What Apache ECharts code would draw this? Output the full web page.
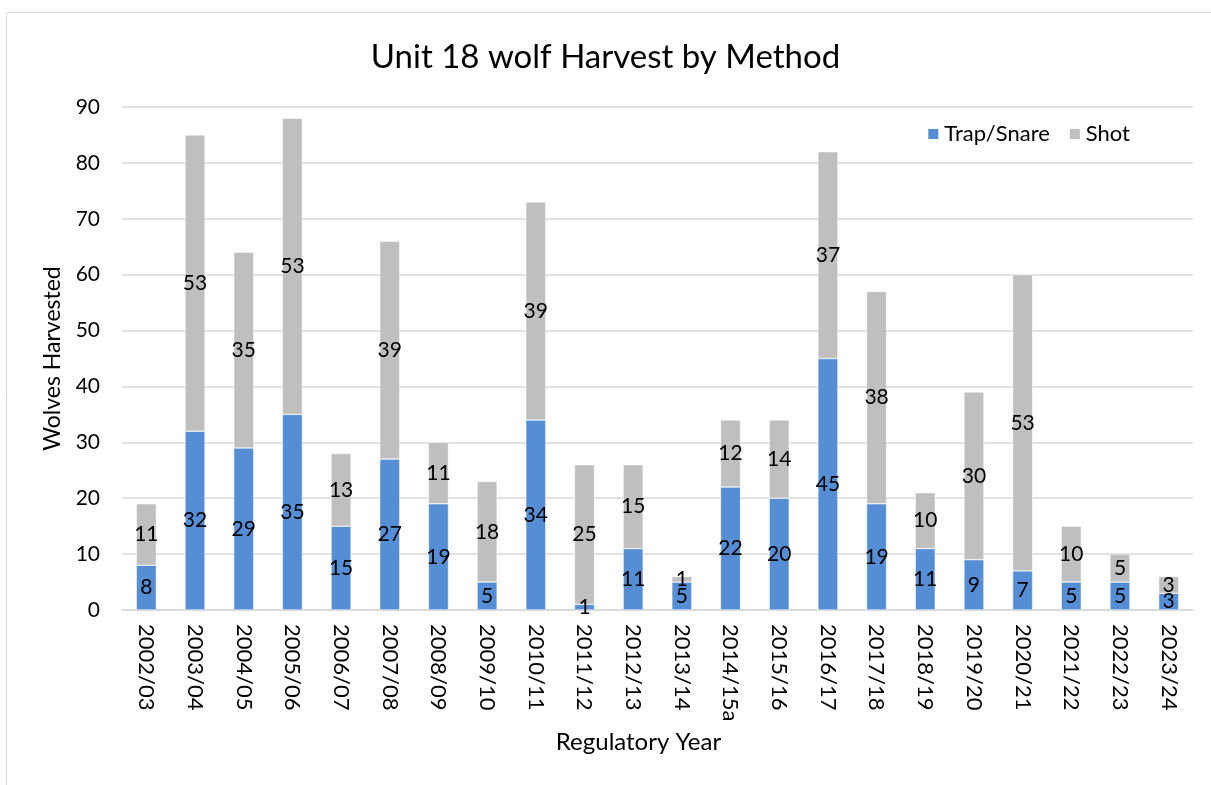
<!DOCTYPE html>
<html>
<head>
<meta charset="utf-8">
<script src="https://cdn.jsdelivr.net/npm/echarts@6/dist/echarts.min.js"></script>
<style>
html,body{margin:0;padding:0;background:#fff;}
#chart{width:1211px;height:785px;}
</style>
</head>
<body>
<div id="chart"></div>
<script>
const categories = ['2002/03','2003/04','2004/05','2005/06','2006/07','2007/08','2008/09','2009/10','2010/11','2011/12','2012/13','2013/14','2014/15a','2015/16','2016/17','2017/18','2018/19','2019/20','2020/21','2021/22','2022/23','2023/24'];
const trapSnare = [8,32,29,35,15,27,19,5,34,1,11,5,22,20,45,19,11,9,7,5,5,3];
const shot = [11,53,35,53,13,39,11,18,39,25,15,1,12,14,37,38,10,30,53,10,5,3];
const yTicks = [0,10,20,30,40,50,60,70,80,90];

const FONT = 'Lato';
const chart = echarts.init(document.getElementById('chart'), null, {renderer:'canvas'});
const labelStyle = {show:true, position:'inside', color:'#000', fontSize:21, fontFamily:FONT};
chart.setOption({
  animation:false,
  textStyle:{fontFamily:FONT},
  title:{text:'Unit 18 wolf Harvest by Method', left:'center', top:36,
    textStyle:{fontFamily:FONT, fontSize:33, fontWeight:'normal', color:'#000'}},
  graphic:[{type:'rect', shape:{x:6.5,y:12.5,width:1210,height:800}, style:{fill:'none', stroke:'#d9d9d9', lineWidth:1}, silent:true}],
  legend:{right:76, top:118, itemWidth:12, itemHeight:12, itemGap:18,
    textStyle:{fontFamily:FONT, fontSize:22, color:'#000'},
    data:[{name:'Trap/Snare', icon:'rect'},{name:'Shot', icon:'rect'}]},
  grid:{left:122, right:18, top:107, bottom:175, containLabel:false},
  xAxis:{type:'category', data:categories,
    name:'Regulatory Year', nameLocation:'middle', nameGap:120,
    nameTextStyle:{fontFamily:FONT, fontSize:24, color:'#000', padding:[0,38,0,0]},
    axisLine:{lineStyle:{color:'#d9d9d9', width:1.5}}, axisTick:{show:false},
    axisLabel:{rotate:-90, fontFamily:FONT, fontSize:22, color:'#000', margin:14, interval:0}},
  yAxis:{type:'value', min:0, max:90, interval:10,
    name:'Wolves Harvested', nameLocation:'middle', nameGap:58,
    nameTextStyle:{fontFamily:FONT, fontSize:23, color:'#000'},
    axisLine:{show:false}, axisTick:{show:false},
    axisLabel:{fontFamily:FONT, fontSize:21, color:'#000', margin:22,
      formatter:function(v){return yTicks.indexOf(v)>=0 ? String(v) : '';}},
    splitLine:{lineStyle:{color:'#d9d9d9', width:1.5}}},
  series:[
    {name:'Trap/Snare', type:'bar', stack:'a', data:trapSnare, barWidth:20,
      itemStyle:{color:'#558ed5', borderColor:'#ffffff', borderWidth:0.5}, label:labelStyle},
    {name:'Shot', type:'bar', stack:'a', data:shot, barWidth:20,
      itemStyle:{color:'#bfbfbf', borderColor:'#ffffff', borderWidth:0.5}, label:labelStyle}
  ]
});
</script>
</body>
</html>
